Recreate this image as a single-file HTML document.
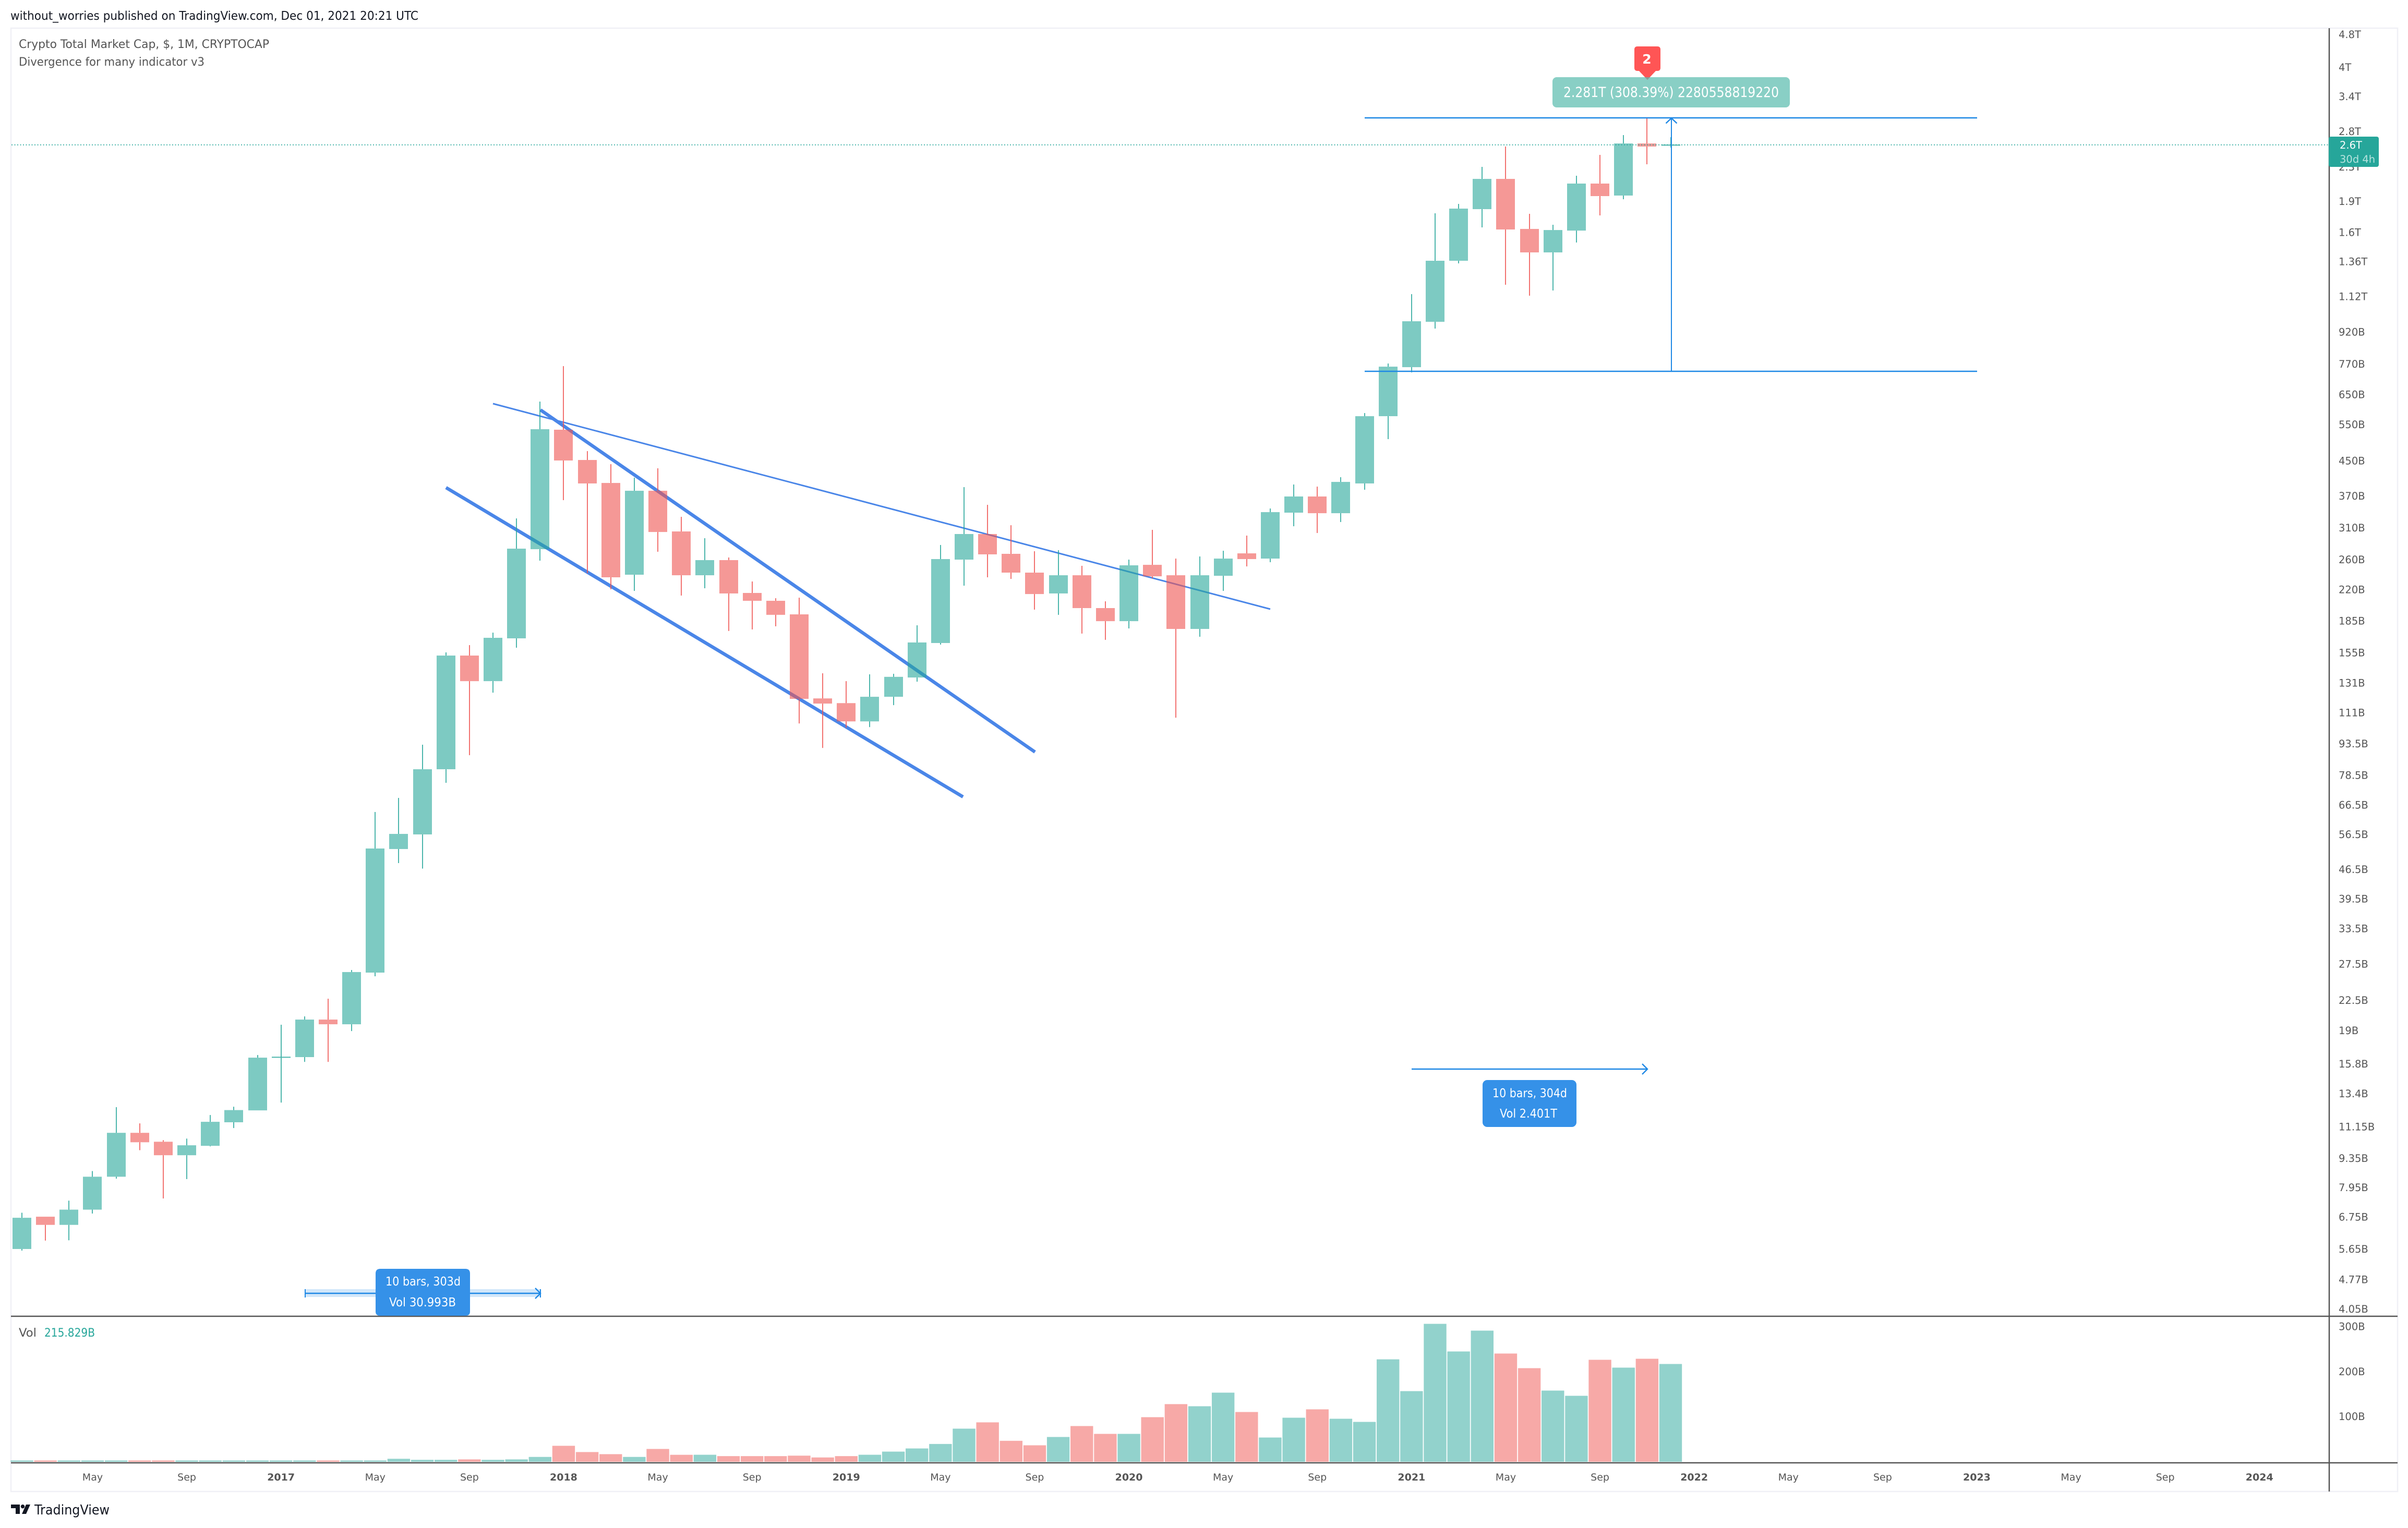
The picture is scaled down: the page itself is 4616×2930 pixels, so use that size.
<!DOCTYPE html>
<html lang="en">
<head>
<meta charset="utf-8">
<title>Crypto Total Market Cap, 1M chart</title>
<style>
html,body{margin:0;padding:0;background:#fff;width:4616px;height:2930px;overflow:hidden}
svg{position:absolute;left:0;top:0;display:block}
text{font-family:"DejaVu Sans","Liberation Sans",sans-serif}
</style>
</head>
<body>
<svg id="chart" xmlns="http://www.w3.org/2000/svg" width="4616" height="2930" viewBox="0 0 4616 2930">
  <rect x="0" y="0" width="4616" height="2930" fill="#ffffff"/>
  <text x="20" y="38" font-size="23" fill="#131722" textLength="782" lengthAdjust="spacingAndGlyphs">without_worries published on TradingView.com, Dec 01, 2021 20:21 UTC</text>
  <rect x="21" y="54" width="4575" height="2806" fill="none" stroke="#f0f0f6" stroke-width="2.5"/>
  <text x="36" y="92" font-size="22.5" fill="#555555" textLength="480" lengthAdjust="spacingAndGlyphs">Crypto Total Market Cap, $, 1M, CRYPTOCAP</text>
  <text x="36" y="126" font-size="22.5" fill="#555555" textLength="356" lengthAdjust="spacingAndGlyphs">Divergence for many indicator v3</text>

  <g fill="none" stroke="#4a86e8" stroke-linecap="butt">
    <line x1="945" y1="774" x2="2435" y2="1168" stroke-width="3"/>
    <line x1="1036" y1="786" x2="1984" y2="1442" stroke-width="6.5"/>
    <line x1="855" y1="935" x2="1846" y2="1528" stroke-width="6.5"/>
  </g>

  <g id="volume-bars"></g>
  <g id="candles"></g>

  <line x1="22" y1="277.7" x2="4464" y2="277.7" stroke="#26a69a" stroke-opacity="0.85" stroke-width="2" stroke-dasharray="2 3.5"/>

  <line x1="21" y1="2524" x2="4596" y2="2524" stroke="#555555" stroke-width="2.5"/>
  <line x1="21" y1="2805" x2="4596" y2="2805" stroke="#555555" stroke-width="2.5"/>
  <line x1="4465" y1="54" x2="4465" y2="2860" stroke="#555555" stroke-width="2.5"/>

  <g id="price-ticks"></g>
  <g id="volume-ticks"></g>
  <g id="time-ticks"></g>

  <g>
    <rect x="4464" y="262" width="96" height="58" rx="4" fill="#26a69a"/>
    <text x="4485" y="285" font-size="19.5" fill="#ffffff">2.6T</text>
    <text x="4485" y="312" font-size="19.5" fill="#b7e3de">30d 4h</text>
  </g>

  <g>
    <line x1="2616" y1="226" x2="3790" y2="226" stroke="#1e88e5" stroke-width="2.6"/>
    <line x1="2616" y1="712" x2="3790" y2="712" stroke="#1e88e5" stroke-width="2.6"/>
    <line x1="3204" y1="712" x2="3204" y2="227" stroke="#1e88e5" stroke-width="2"/>
    <polyline points="3193.5,236.5 3204,226.5 3214.5,236.5" fill="none" stroke="#1e88e5" stroke-width="2.4"/>
    <rect x="2976" y="148" width="455" height="58" rx="8" fill="#89cfc5"/>
    <text x="2997" y="186" font-size="26.5" fill="#ffffff" textLength="413" lengthAdjust="spacingAndGlyphs">2.281T (308.39%) 2280558819220</text>
  </g>

  <g>
    <path d="M3139,89 H3177 Q3183,89 3183,95 V130 Q3183,136 3177,136 L3174,136 L3158,153 L3142,136 L3139,136 Q3133,136 3133,130 V95 Q3133,89 3139,89 Z" fill="#ff5555"/>
    <path d="M3153,148 H3163 L3158,153 Z" fill="#8a9a95"/>
    <text x="3157" y="122" font-size="25" font-weight="bold" fill="#ffffff" text-anchor="middle">2</text>
  </g>

  <g>
    <line x1="2706" y1="2050" x2="3157" y2="2050" stroke="#1e88e5" stroke-width="2.4"/>
    <polyline points="3148,2040 3158,2050 3148,2060" fill="none" stroke="#1e88e5" stroke-width="2.4"/>
    <rect x="2842" y="2071" width="180" height="90" rx="9" fill="#3591e8"/>
    <text x="2861" y="2104" font-size="23.5" fill="#ffffff" textLength="143" lengthAdjust="spacingAndGlyphs">10 bars, 304d</text>
    <text x="2875" y="2143" font-size="23.5" fill="#ffffff" textLength="110" lengthAdjust="spacingAndGlyphs">Vol 2.401T</text>
  </g>

  <g>
    <rect x="585" y="2472" width="451" height="15" fill="#1e88e5" fill-opacity="0.2"/>
    <line x1="585" y1="2480" x2="1035" y2="2480" stroke="#1e88e5" stroke-width="2.4"/>
    <line x1="585" y1="2472" x2="585" y2="2488" stroke="#1e88e5" stroke-width="2"/>
    <line x1="1036" y1="2472" x2="1036" y2="2488" stroke="#1e88e5" stroke-width="2"/>
    <polyline points="1026,2470 1036,2480 1026,2490" fill="none" stroke="#1e88e5" stroke-width="2.4"/>
    <path d="M729,2433 H892 Q901,2433 901,2442 V2515 Q901,2523 892,2523 H729 Q720,2523 720,2515 V2442 Q720,2433 729,2433 Z" fill="#3591e8"/>
    <text x="739" y="2465" font-size="23.5" fill="#ffffff" textLength="144" lengthAdjust="spacingAndGlyphs">10 bars, 303d</text>
    <text x="746" y="2505" font-size="23.5" fill="#ffffff" textLength="128" lengthAdjust="spacingAndGlyphs">Vol 30.993B</text>
  </g>

  <text x="36" y="2563" font-size="22.5" fill="#555555" textLength="34" lengthAdjust="spacingAndGlyphs">Vol</text>
  <text x="85" y="2563" font-size="22.5" fill="#26a69a" textLength="97" lengthAdjust="spacingAndGlyphs">215.829B</text>

  <g>
    <path d="M21,2885 H38 V2903 H30 V2892 H21 Z M50,2885 H58 L50,2903 H42 Z" fill="#131722"/>
    <circle cx="43.5" cy="2888.7" r="3.7" fill="#131722"/>
    <text x="66" y="2904" font-size="25.5" fill="#131722" textLength="144" lengthAdjust="spacingAndGlyphs">TradingView</text>
  </g>
</svg>

<script>
// Monthly bars from Feb 2016 to Dec 2021, prices in billions of USD.
const opens = [5.65,6.76,6.46,7.03,8.44,10.77,10.25,9.51,10.02,11.42,12.20,16.35,16.40,20.20,19.68,26.22,52.08,56.48,81.11,152.5,132.3,167.8,275.3,534.5,451.8,397.7,238.9,380.8,303.8,238.2,259.1,215.9,206.7,191.7,120.2,117.1,105.8,121.3,135.0,163.5,259.8,299.5,268.3,241.7,215.3,238.2,198.5,184.6,252.4,238.2,176.8,237.5,269.0,261.3,337.2,368.9,336.2,396.6,576.2,756.5,973.2,1365.9,1819.4,2152,1630,1430.8,1615,2097,1962,2620,2590];
const highs = [6.91,6.76,7.39,8.71,12.42,11.35,10.34,10.43,11.89,12.45,16.59,19.63,20.56,22.68,26.60,63.97,69.17,92.95,155.2,161.6,173.2,326.6,624.9,760.9,474.6,441.4,409.4,431.4,329.5,292.6,262.9,230.1,209.7,210.3,138.2,132.3,137.4,137.8,180.4,281.8,388.6,352.2,314.5,272.2,273.8,251.0,206.1,259.8,306.5,261.3,264.4,272.9,296.9,345.1,394.3,389.7,410.6,586.3,772.0,1134.8,1777.8,1872.9,2300.5,2575.6,1772.6,1668,2190,2459,2745,3020,2713];
const lows = [5.60,5.92,5.93,6.88,8.35,9.78,7.48,8.33,9.99,11.06,12.20,12.74,15.97,15.97,18.95,25.69,48.17,46.72,75.23,87.7,124.1,159.3,258.3,361.5,241.0,220.3,218.4,271.4,212.8,221.6,174.8,176.3,179.4,104.6,91.3,102.2,102.5,115.8,131.9,162.1,224.8,235.5,233.4,196.8,191.2,172.3,166.4,177.3,234.1,108.0,169.3,218.4,250.2,256.1,312.7,301.2,320.1,383.0,507.3,734.9,937.3,1346.2,1644,1195.6,1125,1158,1511.6,1757,1922,2334,2561];
const closes = [6.72,6.46,7.03,8.44,10.77,10.22,9.51,10.05,11.45,12.22,16.35,16.41,20.20,19.68,26.30,52.23,56.64,81.11,152.5,132.3,168.3,276.1,536.0,450.5,396.6,235.5,380.8,302.9,238.2,259.1,215.3,206.7,191.2,119.9,116.8,105.8,121.3,135.5,164.0,260.6,299.5,267.5,241.7,214.6,238.2,198.5,184.6,251.7,236.8,176.8,238.2,261.3,260.6,338.2,368.9,336.2,400.0,576.2,758.6,976.1,1365.9,1824.7,2152,1625,1430.8,1620,2097,1956,2620,2576,2600];
const volumes = [2.3,2.3,2.3,2.3,2.3,2.3,2.3,2.3,2.3,2.3,2.3,2.3,2.3,2.3,2.3,2.3,6.05,3.7,3.7,4.7,3.7,4.7,10.2,34.9,21,16.3,10.2,27.9,14.9,15,12,12,12,13,9,12,15,22,29,39,73,87,46,36,54.5,78.8,61.4,61.4,98.5,127.5,122.8,153,110,53.3,97.3,115.9,95,88,227,156.4,305.9,244.5,290.8,239.9,207.4,157.6,146,226,208.6,228.3,216.7];
const priceTickLabels = ["4.8T","4T","3.4T","2.8T","2.3T","1.9T","1.6T","1.36T","1.12T","920B","770B","650B","550B","450B","370B","310B","260B","220B","185B","155B","131B","111B","93.5B","78.5B","66.5B","56.5B","46.5B","39.5B","33.5B","27.5B","22.5B","19B","15.8B","13.4B","11.15B","9.35B","7.95B","6.75B","5.65B","4.77B","4.05B"];
const priceTickValues = [4800,4000,3400,2800,2300,1900,1600,1360,1120,920,770,650,550,450,370,310,260,220,185,155,131,111,93.5,78.5,66.5,56.5,46.5,39.5,33.5,27.5,22.5,19,15.8,13.4,11.15,9.35,7.95,6.75,5.65,4.77,4.05];
const volumeTickLabels = ["300B","200B","100B"];
const volumeTickValues = [300,200,100];
const timeTickLabels = ["May","Sep","2017","May","Sep","2018","May","Sep","2019","May","Sep","2020","May","Sep","2021","May","Sep","2022","May","Sep","2023","May","Sep","2024"];
const timeTickBars = [3,7,11,15,19,23,27,31,35,39,43,47,51,55,59,63,67,71,75,79,83,87,91,95];

const NS = 'http://www.w3.org/2000/svg';
function xBar(i){ return 42 + 45.15 * i; }
function yPrice(p){ return 129 + 345.3 * Math.log(4000 / p); }
function yVolume(v){ return 2802.5 - 0.863 * v; }
function make(tag, attrs, parent){
  const el = document.createElementNS(NS, tag);
  for (const k in attrs) el.setAttribute(k, attrs[k]);
  parent.appendChild(el);
  return el;
}

const candlesLayer = document.getElementById('candles');
const volumeLayer = document.getElementById('volume-bars');
closes.forEach(function(close, i){
  const open = opens[i];
  const up = close >= open;
  const cx = Math.round(xBar(i));
  const wickColor = up ? 'rgba(38,166,154,0.82)' : 'rgba(239,83,80,0.82)';
  const bodyColor = up ? 'rgba(38,166,154,0.6)' : 'rgba(239,83,80,0.6)';
  const volColor = up ? 'rgba(38,166,154,0.5)' : 'rgba(239,83,80,0.5)';
  const top = yPrice(Math.max(open, close));
  const bottom = yPrice(Math.min(open, close));
  const hi = yPrice(highs[i]);
  const lo = yPrice(lows[i]);

  const g = make('g', {}, candlesLayer);
  
  

  const upper = make('rect', {x: cx - 1, y: hi, width: 2, height: Math.max(0, top - hi), fill: wickColor}, g);
  
  

  const lower = make('rect', {x: cx - 1, y: bottom, width: 2, height: Math.max(0, lo - bottom), fill: wickColor}, g);
  
  

  const thin = bottom - top < 3;
  const body = make('rect', {x: cx - 18, y: thin ? top - 0.5 : top, width: 36, height: Math.max(2, bottom - top), fill: thin && up ? wickColor : bodyColor}, g);
  
  

  const vTop = yVolume(volumes[i]);
  const bar = make('rect', {x: xBar(i) - 21.7, y: vTop, width: 43.4, height: 2803 - vTop, fill: volColor}, volumeLayer);
  
  
});

const priceTicks = document.getElementById('price-ticks');
priceTickLabels.forEach(function(label, i){
  const t = make('text', {x: 4483, y: yPrice(priceTickValues[i]) + 7, 'font-size': 19.5, fill: '#555555'}, priceTicks);
  t.textContent = label;
  
  
});

const volumeTicks = document.getElementById('volume-ticks');
volumeTickLabels.forEach(function(label, i){
  const t = make('text', {x: 4483, y: yVolume(volumeTickValues[i]) + 7, 'font-size': 19.5, fill: '#555555'}, volumeTicks);
  t.textContent = label;
  
  
});

const timeTicks = document.getElementById('time-ticks');
timeTickLabels.forEach(function(label, i){
  const isYear = /^\d/.test(label);
  const t = make('text', {x: xBar(timeTickBars[i]), y: 2839, 'font-size': 19, 'font-weight': isYear ? 'bold' : 'normal', 'text-anchor': 'middle', fill: '#555555'}, timeTicks);
  t.textContent = label;
  
  
});
</script>
</body>
</html>
